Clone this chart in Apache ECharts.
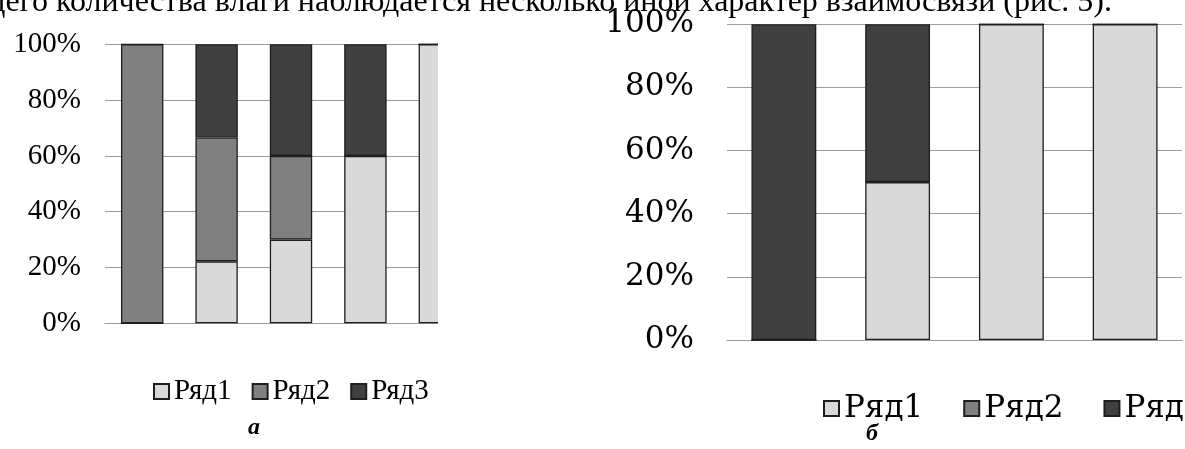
<!DOCTYPE html>
<html>
<head>
<meta charset="utf-8">
<script src="https://cdn.jsdelivr.net/npm/echarts@6/dist/echarts.min.js"></script>
<style>
html,body{margin:0;padding:0;background:#fff;overflow:hidden;}
#c{width:1185px;height:449px;}
</style>
</head>
<body>
<div id="c"></div>
<script>
// ---- data ----
const topText = 'щего количества влаги наблюдается несколько иной характер взаимосвязи (рис. 5).';
const seriesNames = ['Ряд1', 'Ряд2', 'Ряд3'];
const captions = ['а', 'б'];
// chart а (100% stacked, percent shares)
const catsA = ['1', '2', '3', '4', '5'];
const aRow1 = [0, 22.2, 30, 60, 100];
const aRow2 = [100, 44.4, 30, 0, 0];
const aRow3 = [0, 33.4, 40, 40, 0];
// chart б
const catsB = ['1', '2', '3', '4'];
const bRow1 = [0, 50, 100, 100];
const bRow2 = [0, 0, 0, 0];
const bRow3 = [100, 50, 0, 0];
const yMin = 0, yMax = 100, yStep = 20;

// ---- styles ----
const colors = ['#d9d9d9', '#808080', '#404040'];
const border = '#1e1e1e';
const gridColor = '#9c9c9c';
const fontA = 'Liberation Serif';
const fontB = 'DejaVu Serif';

function yAxis(gridIndex, font, size, margin) {
  return {
    type: 'value', gridIndex, min: yMin, max: yMax, interval: yStep,
    axisLine: {show: false}, axisTick: {show: false},
    axisLabel: {formatter: '{value}%', color: '#000', fontFamily: font, fontSize: size, margin},
    splitLine: {lineStyle: {color: gridColor, width: 1}}
  };
}
function xAxis(gridIndex, cats) {
  return {
    type: 'category', gridIndex, data: cats,
    axisLine: {lineStyle: {color: gridColor, width: 1}},
    axisTick: {show: false}, axisLabel: {show: false}, splitLine: {show: false}
  };
}
function bars(rows, idx, stack) {
  return rows.map((r, i) => ({
    name: seriesNames[i], type: 'bar', stack,
    xAxisIndex: idx, yAxisIndex: idx,
    barCategoryGap: '43%',
    itemStyle: {color: colors[i], borderColor: border, borderWidth: 1.3},
    emphasis: {disabled: true},
    data: r
  }));
}

const chart = echarts.init(document.getElementById('c'), null, {renderer: 'canvas'});
chart.setOption({
  animation: false,
  color: colors,
  grid: [
    {left: 105, top: 44.3, width: 372, height: 279},
    {left: 727, top: 24.3, width: 455, height: 315.7}
  ],
  xAxis: [xAxis(0, catsA), xAxis(1, catsB)],
  yAxis: [yAxis(0, fontA, 29, 24), yAxis(1, fontB, 31, 33)],
  legend: [
    {left: 148, top: 372, width: 420, itemWidth: 15, itemHeight: 15, itemGap: 20, icon: 'rect',
     selectedMode: false, data: seriesNames,
     textStyle: {fontFamily: fontA, fontSize: 29, color: '#000'}},
    {left: 818, top: 388, width: 600, itemWidth: 15, itemHeight: 15, itemGap: 40, icon: 'rect',
     selectedMode: false, data: seriesNames,
     textStyle: {fontFamily: fontB, fontSize: 31, color: '#000'}}
  ],
  series: [...bars([aRow1, aRow2, aRow3], 0, 'a'), ...bars([bRow1, bRow2, bRow3], 1, 'b')],
  graphic: [
    // the left figure is cropped on its right side in the source
    {type: 'rect', z: 100, shape: {x: 438, y: 30, width: 60, height: 300}, style: {fill: '#fff'}},
    {type: 'text', z: 101, x: 1112, y: 3, style: {text: topText, font: '32px "Liberation Serif"', fill: '#000', align: 'right', verticalAlign: 'middle'}},
    {type: 'text', z: 101, x: 254, y: 428, style: {text: captions[0], font: 'italic bold 24px "Liberation Serif"', fill: '#000', align: 'center', verticalAlign: 'middle'}},
    {type: 'text', z: 101, x: 872, y: 434, style: {text: captions[1], font: 'italic bold 24px "Liberation Serif"', fill: '#000', align: 'center', verticalAlign: 'middle'}}
  ]
});
</script>
</body>
</html>
